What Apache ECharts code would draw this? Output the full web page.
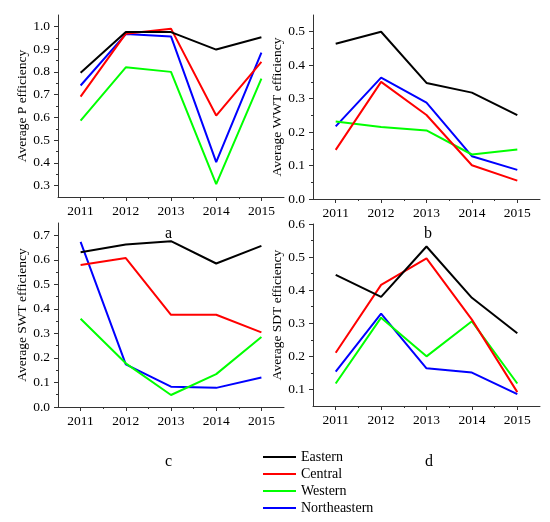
<!DOCTYPE html>
<html>
<head>
<meta charset="utf-8">
<script src="https://cdn.jsdelivr.net/npm/echarts@6/dist/echarts.min.js"></script>
<style>
html, body { margin:0; padding:0; background:#fff; }
#chart { width:550px; height:522px; }
</style>
</head>
<body>
<div id="chart"></div>
<script>
var years = [2011, 2012, 2013, 2014, 2015];
var regions = ['Eastern', 'Central', 'Western', 'Northeastern'];
var colors = ['#000000', '#ff0000', '#00ff00', '#0000ff'];

// panel a - P
var pEastern = [0.796, 0.975, 0.975, 0.898, 0.952];
var pCentral = [0.691, 0.968, 0.990, 0.608, 0.844];
var pWestern = [0.586, 0.820, 0.800, 0.307, 0.770];
var pNortheastern = [0.740, 0.966, 0.956, 0.403, 0.885];
// panel b - WWT
var wwtEastern = [0.464, 0.500, 0.347, 0.318, 0.251];
var wwtCentral = [0.147, 0.350, 0.251, 0.101, 0.055];
var wwtWestern = [0.232, 0.215, 0.205, 0.133, 0.148];
var wwtNortheastern = [0.217, 0.363, 0.288, 0.128, 0.087];
// panel c - SWT
var swtEastern = [0.631, 0.662, 0.676, 0.585, 0.657];
var swtCentral = [0.579, 0.607, 0.376, 0.376, 0.304];
var swtWestern = [0.360, 0.178, 0.049, 0.134, 0.285];
var swtNortheastern = [0.673, 0.174, 0.083, 0.078, 0.120];
// panel d - SDT
var sdtEastern = [0.446, 0.380, 0.532, 0.377, 0.270];
var sdtCentral = [0.211, 0.416, 0.496, 0.311, 0.092];
var sdtWestern = [0.118, 0.317, 0.200, 0.306, 0.118];
var sdtNortheastern = [0.154, 0.329, 0.164, 0.151, 0.086];

var yTicksA = [0.3, 0.4, 0.5, 0.6, 0.7, 0.8, 0.9, 1.0];
var yTicksB = [0.0, 0.1, 0.2, 0.3, 0.4, 0.5];
var yTicksC = [0.0, 0.1, 0.2, 0.3, 0.4, 0.5, 0.6, 0.7];
var yTicksD = [0.1, 0.2, 0.3, 0.4, 0.5, 0.6];

var panels = [
	{ title: 'Average P efficiency', min: 0.25, max: 1.05, ticks: yTicksA, letter: 'a',
	  data: [pEastern, pCentral, pWestern, pNortheastern] },
	{ title: 'Average WWT efficiency', min: 0, max: 0.55, ticks: yTicksB, letter: 'b',
	  data: [wwtEastern, wwtCentral, wwtWestern, wwtNortheastern] },
	{ title: 'Average SWT efficiency', min: 0, max: 0.75, ticks: yTicksC, letter: 'c',
	  data: [swtEastern, swtCentral, swtWestern, swtNortheastern] },
	{ title: 'Average SDT efficiency', min: 0.05, max: 0.6, ticks: yTicksD, letter: 'd',
	  data: [sdtEastern, sdtCentral, sdtWestern, sdtNortheastern] }
];

var grids = [
	{ left: 58, top: 15, width: 226, height: 182 },
	{ left: 313, top: 15, width: 227, height: 184 },
	{ left: 58, top: 223, width: 226, height: 184 },
	{ left: 313, top: 224, width: 227, height: 182 }
];
var letterPos = [[170, 234], [429, 234], [170, 462], [430, 462]];

var font = "'Liberation Serif', 'Times New Roman', serif";
var axisColor = '#333';

var xAxes = [], yAxes = [], series = [], graphics = [];

for (var p = 0; p < panels.length; p++) {
	var pan = panels[p];
	xAxes.push({
		type: 'value', gridIndex: p, min: 2010.5, max: 2015.5, position: 'bottom',
		axisLine: { show: true, lineStyle: { color: axisColor, width: 1 } },
		axisTick: { show: true, length: 4, customValues: years, lineStyle: { color: axisColor } },
		axisLabel: { customValues: years, margin: 7, color: '#000', fontFamily: font, fontSize: 13.5,
			formatter: function (v) { return String(v); } },
		splitLine: { show: false }
	});
	// minor ticks
	xAxes.push({
		type: 'value', gridIndex: p, min: 2010.5, max: 2015.5, position: 'bottom',
		axisLine: { show: false },
		axisTick: { show: true, length: 2, customValues: [2011.5, 2012.5, 2013.5, 2014.5], lineStyle: { color: axisColor } },
		axisLabel: { show: false },
		splitLine: { show: false }
	});
	var minors = [];
	for (var t = 0; t < pan.ticks.length; t++) {
		var m = Math.round((pan.ticks[t] + 0.05) * 100) / 100;
		if (m < pan.max) minors.push(m);
	}
	yAxes.push({
		type: 'value', gridIndex: p, min: pan.min, max: pan.max, position: 'left',
		name: pan.title, nameLocation: 'middle', nameGap: 22,
		nameTextStyle: { fontFamily: font, fontSize: 13.5, color: '#000' },
		axisLine: { show: true, lineStyle: { color: axisColor, width: 1 } },
		axisTick: { show: true, length: 4, customValues: pan.ticks, lineStyle: { color: axisColor } },
		axisLabel: { customValues: pan.ticks, margin: 8, color: '#000', fontFamily: font, fontSize: 13.5,
			formatter: function (v) { return v.toFixed(1); } },
		splitLine: { show: false }
	});
	yAxes.push({
		type: 'value', gridIndex: p, min: pan.min, max: pan.max, position: 'left',
		axisLine: { show: false },
		axisTick: { show: true, length: 2, customValues: minors, lineStyle: { color: axisColor } },
		axisLabel: { show: false },
		splitLine: { show: false }
	});
	for (var r = 0; r < regions.length; r++) {
		var pts = [];
		for (var i = 0; i < years.length; i++) pts.push([years[i], pan.data[r][i]]);
		series.push({
			name: regions[r], type: 'line', xAxisIndex: p * 2, yAxisIndex: p * 2,
			data: pts, showSymbol: false, silent: true,
			lineStyle: { color: colors[r], width: 2 }, itemStyle: { color: colors[r] },
			z: 10 - r
		});
	}
	graphics.push({
		type: 'text', left: letterPos[p][0] - 5, top: letterPos[p][1] - 8,
		style: { text: pan.letter, font: '16px ' + font, fill: '#000' }
	});
}

var myChart = echarts.init(document.getElementById('chart'));
myChart.setOption({
	animation: false,
	grid: grids,
	xAxis: xAxes,
	yAxis: yAxes,
	series: series,
	legend: {
		data: regions, orient: 'vertical', left: 263, top: 450, padding: 0,
		icon: 'rect', itemWidth: 33, itemHeight: 2, itemGap: 3,
		textStyle: { fontFamily: font, fontSize: 14, color: '#000', lineHeight: 14 },
		selectedMode: false
	},
	graphic: graphics
});
</script>
</body>
</html>
